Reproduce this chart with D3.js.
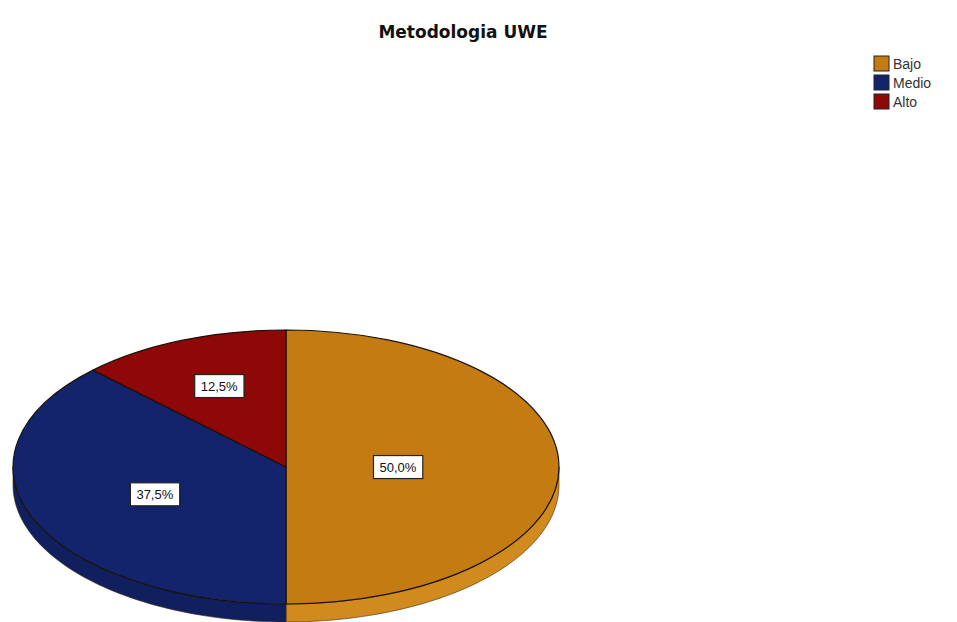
<!DOCTYPE html>
<html><head><meta charset="utf-8">
<script src="https://cdn.jsdelivr.net/npm/d3@7"></script>
<style>html,body{margin:0;padding:0;background:#fff;}svg{display:block;}</style>
</head><body>
<svg id="chart" width="957" height="622"></svg>
<script>
const categories = ["Bajo", "Medio", "Alto"];
const values = [50.0, 37.5, 12.5];
const labels = ["50,0%", "37,5%", "12,5%"];
const colors = ["#C47C12", "#13246C", "#8E0808"];
const sideColors = ["#D08A1E", "#101F5E", "#700606"];
const labelFrac = [0.41, 0.52, 0.64];

const svg = d3.select("#chart");
const W = 957, H = 622;
const cx = 286, cy = 467, rx = 273, ry = 137, depth = 18;

svg.append("text").attr("x", 463).attr("y", 38).attr("text-anchor", "middle")
  .attr("font-family", "DejaVu Sans, Verdana, sans-serif").attr("font-weight", "bold")
  .attr("font-size", 17).attr("fill", "#111").text("Metodologia UWE");

const pie = d3.pie().sort(null).value(d => d);
const arcs = pie(values);

const px = a => cx + rx * Math.sin(a);
const py = a => cy - ry * Math.cos(a);

// side walls
const wallG = svg.append("g");
arcs.forEach((d, i) => {
  const s = Math.max(d.startAngle, Math.PI / 2);
  const e = Math.min(d.endAngle, 3 * Math.PI / 2);
  if (e <= s) return;
  const n = 60;
  const pts = d3.range(n + 1).map(k => s + (e - s) * k / n);
  const p = d3.path();
  p.moveTo(px(pts[0]), py(pts[0]));
  pts.forEach(a => p.lineTo(px(a), py(a)));
  pts.slice().reverse().forEach(a => p.lineTo(px(a), py(a) + depth));
  p.closePath();
  wallG.append("path").attr("d", p.toString()).attr("fill", sideColors[i])
    .attr("stroke", "#3a2a10").attr("stroke-width", 0.6);
});

// top faces
const arcGen = d3.arc().innerRadius(0).outerRadius(rx);
const topG = svg.append("g").attr("transform", `translate(${cx},${cy}) scale(1,${ry / rx})`);
topG.selectAll("path").data(arcs).join("path")
  .attr("d", arcGen).attr("fill", (d, i) => colors[i])
  .attr("stroke", "#1a1208").attr("stroke-width", 1.2)
  .attr("vector-effect", "non-scaling-stroke");

// labels
arcs.forEach((d, i) => {
  const a = (d.startAngle + d.endAngle) / 2;
  const x = cx + labelFrac[i] * rx * Math.sin(a);
  const y = cy - labelFrac[i] * ry * Math.cos(a);
  const g = svg.append("g").attr("transform", `translate(${x},${y})`);
  const t = g.append("text").attr("text-anchor", "middle").attr("dy", "0.35em")
    .attr("font-family", "Liberation Sans, Arial, sans-serif").attr("font-size", 13)
    .attr("fill", "#111").text(labels[i]);
  const bb = t.node().getBBox();
  g.insert("rect", "text").attr("x", bb.x - 6).attr("y", bb.y - 4)
    .attr("width", bb.width + 12).attr("height", bb.height + 8)
    .attr("fill", "#fff").attr("stroke", "#222").attr("stroke-width", 1.2);
});

// legend
const lg = svg.append("g").attr("transform", "translate(874,56)");
categories.forEach((c, i) => {
  const row = lg.append("g").attr("transform", `translate(0,${i * 19})`);
  row.append("rect").attr("width", 15).attr("height", 15)
    .attr("fill", colors[i]).attr("stroke", "#222").attr("stroke-width", 1);
  row.append("text").attr("x", 19).attr("y", 8).attr("dy", "0.35em")
    .attr("font-family", "Liberation Sans, Arial, sans-serif").attr("font-size", 14)
    .attr("fill", "#333").text(c);
});
</script>
</body></html>
